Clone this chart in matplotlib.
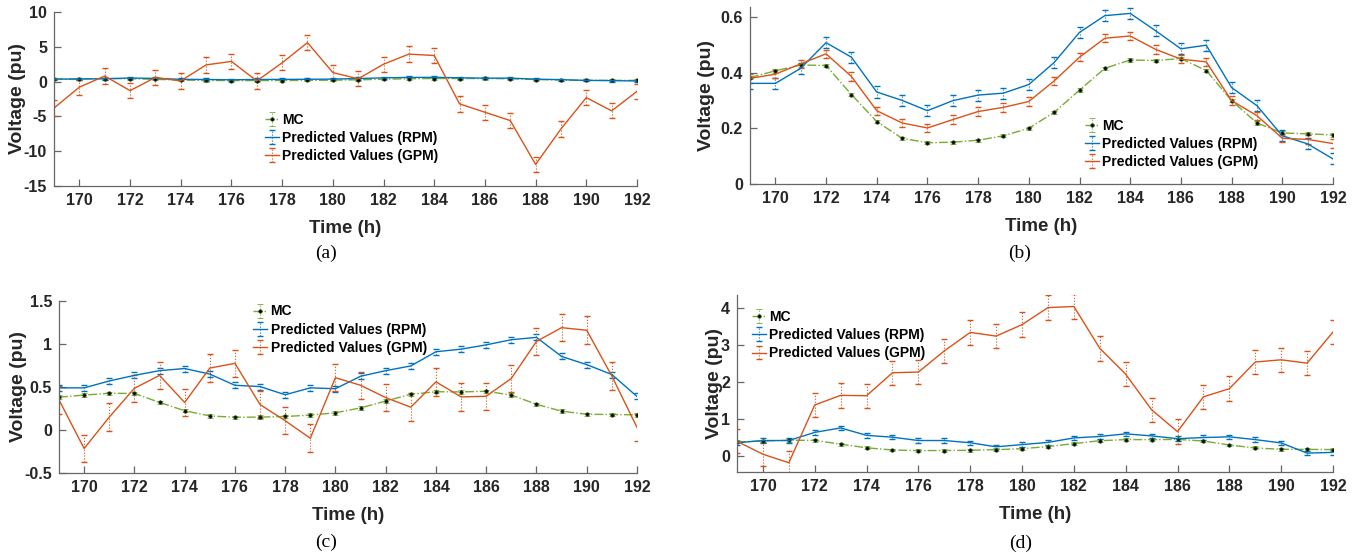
import matplotlib
matplotlib.use('Agg')
import matplotlib.pyplot as plt

# hours on the x axis
hours = list(range(169, 193))

# MC curve (same in all four panels)
mc = [0.382, 0.406, 0.427, 0.425, 0.321, 0.224, 0.164, 0.148, 0.150, 0.157, 0.173, 0.200,
      0.257, 0.337, 0.415, 0.445, 0.443, 0.450, 0.407, 0.299, 0.219, 0.183, 0.180, 0.176]

# panel (a)
gpm_a = [-3.8, -0.8, 0.8, -1.3, 0.6, 0.1, 2.4, 2.9, 0.1, 2.7, 5.6, 1.3,
         0.4, 2.5, 3.95, 3.75, -3.2, -4.4, -5.6, -11.9, -6.8, -2.3, -4.2, -1.4]
rpm_a = [0.36, 0.36, 0.42, 0.51, 0.46, 0.33, 0.30, 0.26, 0.30, 0.32, 0.33, 0.36,
         0.44, 0.54, 0.60, 0.61, 0.55, 0.49, 0.50, 0.35, 0.28, 0.17, 0.14, 0.09]

# panel (b)
rpm_b = [0.361, 0.361, 0.415, 0.507, 0.455, 0.330, 0.300, 0.263, 0.299, 0.319, 0.326, 0.357,
         0.436, 0.544, 0.604, 0.612, 0.550, 0.485, 0.498, 0.346, 0.281, 0.173, 0.144, 0.090]
gpm_b = [0.379, 0.394, 0.431, 0.467, 0.386, 0.263, 0.219, 0.201, 0.231, 0.260, 0.275, 0.296,
         0.370, 0.455, 0.523, 0.531, 0.483, 0.448, 0.438, 0.299, 0.245, 0.164, 0.160, 0.145]

# panel (c)
rpm_c = [0.49, 0.49, 0.57, 0.635, 0.69, 0.715, 0.65, 0.52, 0.505, 0.41, 0.49, 0.48,
         0.625, 0.69, 0.745, 0.91, 0.94, 0.99, 1.05, 1.077, 0.855, 0.76, 0.645, 0.39]
gpm_c = [0.35, -0.215, 0.15, 0.485, 0.635, 0.32, 0.72, 0.775, 0.296, 0.108, -0.096, 0.608,
         0.52, 0.377, 0.265, 0.56, 0.385, 0.392, 0.60, 1.03, 1.19, 1.16, 0.627, 0.03]

# panel (d)
rpm_d = [0.36, 0.42, 0.42, 0.64, 0.76, 0.56, 0.51, 0.42, 0.42, 0.36, 0.25, 0.31,
         0.37, 0.49, 0.53, 0.60, 0.545, 0.47, 0.50, 0.52, 0.445, 0.355, 0.08, 0.10]
gpm_d = [0.40, 0.05, -0.18, 1.38, 1.64, 1.63, 2.25, 2.27, 2.84, 3.34, 3.24, 3.55,
         4.01, 4.04, 2.91, 2.21, 1.25, 0.66, 1.60, 1.82, 2.54, 2.60, 2.51, 3.35]

# error bar half widths (mc, rpm, gpm) per panel
err_a = [0.15, 0.15, 1.1]
err_b = [0.006, 0.02, 0.015]
err_c = [0.02, 0.035, 0.16]
err_d = [0.04, 0.06, 0.33]

labels = ['MC', 'Predicted Values (RPM)', 'Predicted Values (GPM)']
captions = ['(a)', '(b)', '(c)', '(d)']

GREEN = '#77AC30'
BLUE = '#0072BD'
RED = '#D95319'
AX_COL = '#262626'

plt.rcParams['font.family'] = ['Liberation Sans', 'DejaVu Sans']
plt.rcParams['font.weight'] = 'bold'

fig = plt.figure(figsize=(13.59, 5.56), dpi=100)
W, H = 1359, 556


def px_axes(left, top, right, bottom):
    return fig.add_axes([left / W, 1 - bottom / H, (right - left) / W, (bottom - top) / H])


def draw(ax, rpm, gpm, err, ylim, yticks, yticklabels, leg_xy, ylab_x):
    e = ax.errorbar(hours, mc, yerr=err[0], color=GREEN, ls='-.', lw=1.0,
                    marker='o', ms=2.4, mfc='black', mec='#1f3a0a', mew=0.6,
                    capsize=2, elinewidth=0.8, label=labels[0])
    e[2][0].set_linestyle(':')
    e = ax.errorbar(hours, rpm, yerr=err[1], color=BLUE, ls='-', lw=1.0,
                    capsize=2, elinewidth=0.8, label=labels[1])
    e[2][0].set_linestyle(':')
    e = ax.errorbar(hours, gpm, yerr=err[2], color=RED, ls='-', lw=1.0,
                    capsize=2, elinewidth=0.8, label=labels[2])
    e[2][0].set_linestyle(':')

    ax.set_xlim(169, 192)
    ax.set_xticks(range(170, 193, 2))
    ax.set_ylim(*ylim)
    ax.set_yticks(yticks)
    ax.set_yticklabels(yticklabels)
    for s in ['top', 'right']:
        ax.spines[s].set_visible(False)
    for s in ['left', 'bottom']:
        ax.spines[s].set_color('#666666')
        ax.spines[s].set_linewidth(0.9)
    ax.tick_params(direction='in', length=5, width=0.9, color='#666666',
                   labelsize=11.5, labelcolor=AX_COL, pad=5)
    for t in ax.get_xticklabels() + ax.get_yticklabels():
        t.set_fontweight('bold')
    ax.set_xlabel('Time (h)', fontsize=13.5, fontweight='bold', color=AX_COL, labelpad=9)
    ax.set_ylabel('Voltage (pu)', fontsize=14, fontweight='bold', color=AX_COL)
    ax.yaxis.set_label_coords(ylab_x, 0.5)
    ax.legend(loc='upper left', bbox_to_anchor=leg_xy, frameon=False,
              prop={'weight': 'bold', 'size': 10}, handlelength=1.0,
              handletextpad=0.25, labelspacing=0.3, borderaxespad=0, borderpad=0)


ax_a = px_axes(54, 12, 637, 186)
draw(ax_a, rpm_a, gpm_a, err_a, (-15, 10), [-15, -10, -5, 0, 5, 10],
     ['-15', '-10', '-5', '0', '5', '10'], (0.362, 0.42), -0.048)

ax_b = px_axes(750, 7, 1333, 184)
draw(ax_b, rpm_b, gpm_b, err_b, (0, 0.635), [0, 0.2, 0.4, 0.6],
     ['0', '0.2', '0.4', '0.6'], (0.574, 0.37), -0.06)

ax_c = px_axes(59, 301, 637, 473)
draw(ax_c, rpm_c, gpm_c, err_c, (-0.5, 1.5), [-0.5, 0, 0.5, 1, 1.5],
     ['-0.5', '0', '0.5', '1', '1.5'], (0.336, 0.98), -0.055)

ax_d = px_axes(737, 295, 1333, 472)
draw(ax_d, rpm_d, gpm_d, err_d, (-0.43, 4.35), [0, 1, 2, 3, 4],
     ['0', '1', '2', '3', '4'], (0.025, 0.915), -0.024)

cap_pos = [(326, 253), (1020, 253), (326, 542), (1021, 543)]
for cap, (cx, cy) in zip(captions, cap_pos):
    fig.text(cx / W, 1 - cy / H, cap, ha='center', va='center', fontsize=14,
             family=['Liberation Serif', 'DejaVu Serif'], fontweight='normal', color='black')

fig.savefig('out.png', dpi=100)
